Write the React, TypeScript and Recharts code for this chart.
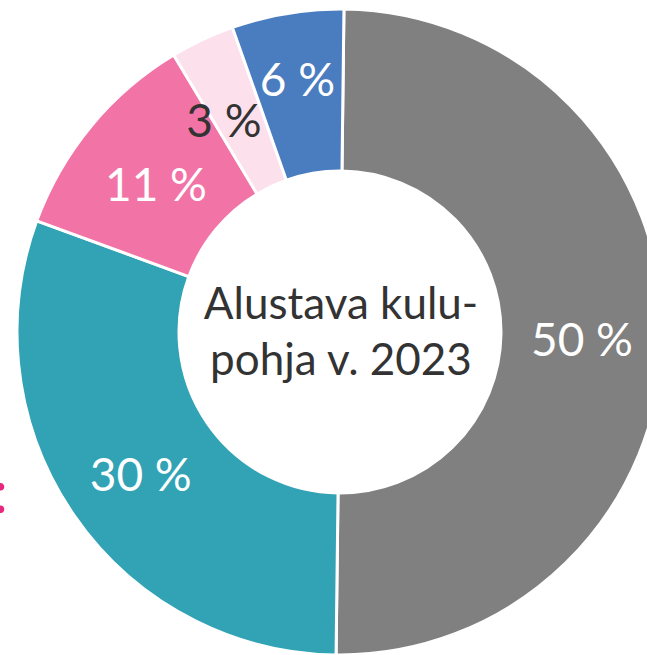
import { PieChart, Pie, Cell } from "recharts";

const categories = ["A", "B", "C", "D", "E"];
const shares = [50, 30.4, 10.8, 3.2, 5.6];
const COLORS = ["#808080", "#31A3B5", "#F274A7", "#FCE0EC", "#4A7CC0"];
const LABEL_COLORS = ["#ffffff", "#ffffff", "#ffffff", "#333333", "#ffffff"];
const centerLines = ["Alustava kulu-", "pohja v. 2023"];

const data = categories.map((name, i) => ({ name, value: shares[i] }));

const RADIAN = Math.PI / 180;
// label placement tweaks (radius fraction in ring, angle shift in degrees)
const LABEL_RADIUS = [0.5, 0.5, 0.48, 0.52, 0.62];
const LABEL_SHIFT = [0, 0, 0, 3, 0];

const renderLabel = (props: any) => {
  const { cx, cy, midAngle, innerRadius, outerRadius, value, index } = props;
  const r = innerRadius + (outerRadius - innerRadius) * LABEL_RADIUS[index];
  const a = midAngle + LABEL_SHIFT[index];
  const x = cx + r * Math.cos(-a * RADIAN);
  const y = cy + r * Math.sin(-a * RADIAN);
  return (
    <text
      x={x}
      y={y + 4}
      fill={LABEL_COLORS[index]}
      textAnchor="middle"
      dominantBaseline="central"
      fontSize={46}
      fontFamily="Lato, sans-serif"
    >
      {`${Math.round(value)} %`}
    </text>
  );
};

export default function App() {
  return (
    <div style={{ position: "absolute", left: 0, top: 0, width: 647, height: 655, overflow: "hidden" }}>
      <PieChart width={647} height={655} margin={{ top: 0, right: 0, bottom: 0, left: 0 }}>
        <Pie
          data={data}
          dataKey="value"
          cx={340}
          cy={332}
          innerRadius={161}
          outerRadius={323}
          startAngle={89.3}
          endAngle={-270.7}
          stroke="#ffffff"
          strokeWidth={3}
          labelLine={false}
          label={renderLabel}
          isAnimationActive={false}
        >
          {data.map((entry, index) => (
            <Cell key={`cell-${index}`} fill={COLORS[index]} />
          ))}
        </Pie>
        <text
          x={341}
          y={302}
          textAnchor="middle"
          dominantBaseline="central"
          fontSize={44}
          fill="#333333"
          fontFamily="Lato, sans-serif"
        >
          {centerLines[0]}
        </text>
        <text
          x={341}
          y={358}
          textAnchor="middle"
          dominantBaseline="central"
          fontSize={44}
          fill="#333333"
          fontFamily="Lato, sans-serif"
        >
          {centerLines[1]}
        </text>
        <text x={-7} y={490} dominantBaseline="central" fontSize={60} fill="#E8287E" fontFamily="Lato, sans-serif">
          :
        </text>
      </PieChart>
    </div>
  );
}
